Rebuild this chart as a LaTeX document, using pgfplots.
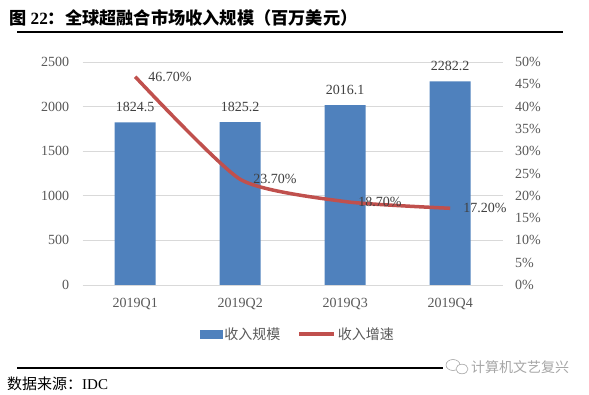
\documentclass[border=0pt]{standalone}
\usepackage{pgfplots}
\pgfplotsset{compat=1.18}
\usepackage{fontspec}
\setmainfont{Liberation Serif}
\newfontfamily\cjk{Noto Sans CJK SC}
\definecolor{barblue}{HTML}{4F81BD}
\definecolor{linered}{HTML}{C0504D}
\definecolor{gridgray}{HTML}{D9D9D9}
\definecolor{txtgray}{HTML}{595959}
\definecolor{lblgray}{HTML}{404040}
\definecolor{wmgray}{HTML}{A6A6A6}
\begin{document}
\begin{tikzpicture}[x=1pt,y=1pt]
\path[use as bounding box] (0,0) rectangle (589,-395);
% title
\node[anchor=west, inner sep=0] at (9,-18) {\fontsize{17.2}{19}\selectfont\bfseries{\cjk 图} 22{\cjk ：全球超融合市场收入规模（百万美元）}};
\draw[line width=1.3pt] (17,-32) -- (563,-32);
% bars
\begin{axis}[
  at={(82.7pt,-285pt)}, anchor=south west,
  scale only axis, width=420pt, height=223pt,
  xmin=-0.5, xmax=3.5, ymin=0, ymax=2500,
  ytick={0,500,...,2500},
  xtick={0,1,2,3}, xticklabels={2019Q1,2019Q2,2019Q3,2019Q4},
  ymajorgrids, grid style={gridgray, line width=0.8pt},
  axis line style={draw=none}, major tick length=0pt,
  tick label style={font=\fontsize{14}{16}\selectfont, text=txtgray},
  /pgf/number format/assume math mode=true,
  /pgf/number format/1000 sep={},
  yticklabel style={xshift=-10pt},
  xticklabel style={yshift=-10pt},
  ybar, bar width=41pt,
  nodes near coords, point meta=explicit symbolic,
  every node near coord/.append style={font=\fontsize{14}{16}\selectfont, text=lblgray, yshift=7pt},
]
\addplot[fill=barblue, draw=none] coordinates {
  (0,1824.5) [1824.5]
  (1,1825.2) [1825.2]
  (2,2016.1) [2016.1]
  (3,2282.2) [2282.2]
};
\end{axis}
% line
\begin{axis}[
  at={(82.7pt,-285pt)}, anchor=south west,
  scale only axis, width=420pt, height=223pt,
  xmin=-0.5, xmax=3.5, ymin=0, ymax=50,
  ytick={0,5,...,50},
  yticklabel={\pgfmathprintnumber{\tick}\%},
  axis y line*=right, axis x line=none,
  axis line style={draw=none}, major tick length=0pt,
  tick label style={font=\fontsize{14}{16}\selectfont, text=txtgray},
  /pgf/number format/assume math mode=true,
  yticklabel style={xshift=9pt},
  legend style={at={(0.5126,-0.2197)}, anchor=center, draw=none, fill=none,
    legend columns=2, font=\cjk\fontsize{14}{16}\selectfont, text=txtgray,
    /tikz/every even column/.append style={column sep=15pt}},
  legend cell align=left,
]
\addlegendimage{legend image code/.code={\fill[barblue] (0pt,-4pt) rectangle (22pt,4pt);}}
\addlegendentry{收入规模}
\addplot[linered, line width=3.5pt, smooth, tension=0.35, mark=none,
  nodes near coords, point meta=explicit symbolic,
  every node near coord/.append style={anchor=west, xshift=8pt, font=\fontsize{14}{16}\selectfont, text=lblgray},
  legend image code/.code={\draw[linered, line width=3.5pt] (0pt,0pt) -- (35pt,0pt);}]
  coordinates {
  (0,46.7) [46.70\%]
  (1,23.7) [23.70\%]
  (2,18.7) [18.70\%]
  (3,17.2) [17.20\%]
};
\addlegendentry{收入增速}
\end{axis}
% footer
\draw[line width=1.1pt] (17,-368) -- (443,-368);
\draw[wmgray, line width=0.6pt, fill=white] (453,-365) ellipse (7pt and 5.5pt);
\draw[wmgray, line width=0.6pt, fill=white] (462,-369) ellipse (6pt and 4.8pt);
\node[anchor=west, inner sep=0, text=wmgray] at (471,-367) {\cjk\fontsize{14}{16}\selectfont 计算机文艺复兴};
\node[anchor=west, inner sep=0] at (7,-384) {\fontsize{15}{17}\selectfont{\cjk 数据来源：}IDC};
\end{tikzpicture}
\end{document}
